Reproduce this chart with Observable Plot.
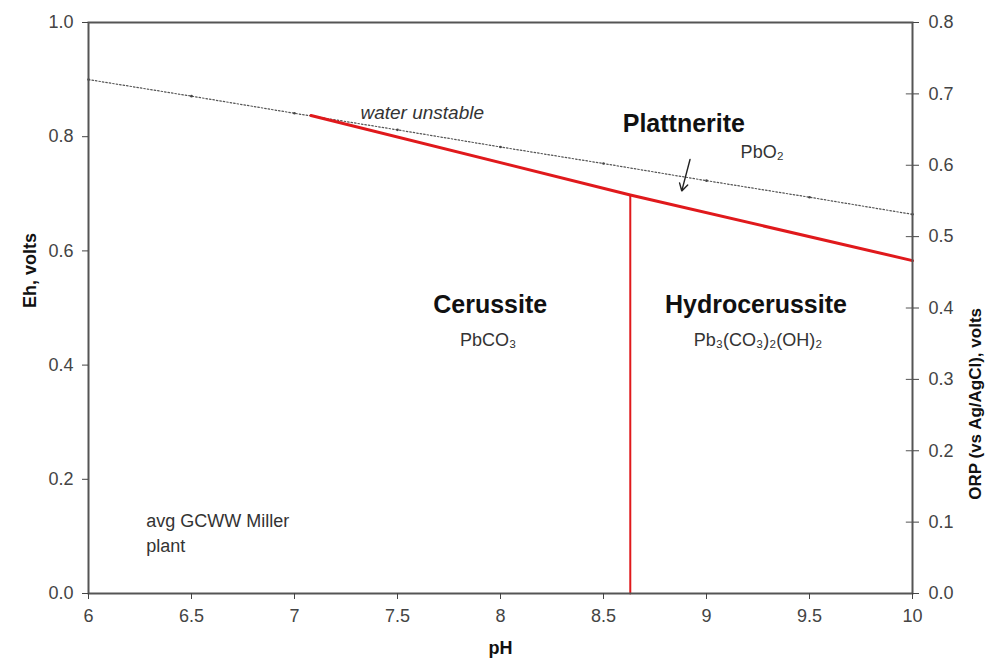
<!DOCTYPE html>
<html><head><meta charset="utf-8">
<script src="https://cdn.jsdelivr.net/npm/d3@7"></script>
<script src="https://cdn.jsdelivr.net/npm/@observablehq/plot@0.6"></script>
<style>body{margin:0;background:#fff;font-family:"Liberation Sans",Arial,sans-serif}</style>
</head><body><div id="chart"></div>
<script>
const phTicks = [6, 6.5, 7, 7.5, 8, 8.5, 9, 9.5, 10];
const ehTicks = [0, 0.2, 0.4, 0.6, 0.8, 1.0];
const orpTicks = [0, 0.1, 0.2, 0.3, 0.4, 0.5, 0.6, 0.7, 0.8];
const waterPH = [6, 6.5, 7, 7.5, 8, 8.5, 9, 9.5, 10];
const waterEh = [0.900, 0.871, 0.841, 0.812, 0.782, 0.753, 0.723, 0.694, 0.664];
const boundaryPH = [7.08, 8.63, 10];
const boundaryEh = [0.837, 0.698, 0.583];
const verticalPH = [8.63, 8.63];
const verticalEh = [0, 0.698];
const labels = [
  {x: 7.62, y: 0.842, t: "water unstable", w: "normal", s: "italic", size: 19, a: "middle"},
  {x: 8.89, y: 0.822, t: "Plattnerite", w: "bold", s: "normal", size: 25, a: "middle"},
  {x: 9.27, y: 0.772, t: "PbO₂", w: "normal", s: "normal", size: 18, a: "middle"},
  {x: 7.95, y: 0.506, t: "Cerussite", w: "bold", s: "normal", size: 25, a: "middle"},
  {x: 7.94, y: 0.443, t: "PbCO₃", w: "normal", s: "normal", size: 18, a: "middle"},
  {x: 9.24, y: 0.506, t: "Hydrocerussite", w: "bold", s: "normal", size: 25, a: "middle"},
  {x: 9.25, y: 0.443, t: "Pb₃(CO₃)₂(OH)₂", w: "normal", s: "normal", size: 18, a: "middle"},
  {x: 6.28, y: 0.126, t: "avg GCWW Miller", w: "normal", s: "normal", size: 18, a: "start"},
  {x: 6.28, y: 0.083, t: "plant", w: "normal", s: "normal", size: 18, a: "start"}
];
const water = waterPH.map((x, i) => ({x, y: waterEh[i]}));
const boundary = boundaryPH.map((x, i) => ({x, y: boundaryEh[i]}));
const vertical = verticalPH.map((x, i) => ({x, y: verticalEh[i]}));
const arrow = [{x1: 8.92, y1: 0.760, x2: 8.88, y2: 0.705}];

const chart = Plot.plot({
  width: 987, height: 660,
  marginLeft: 88, marginRight: 75, marginTop: 22, marginBottom: 67,
  style: {fontFamily: "Liberation Sans, Arial, sans-serif", background: "#fff"},
  x: {domain: [6, 10]},
  y: {domain: [0, 1]},
  marks: [
    Plot.line(water, {x: "x", y: "y", stroke: "#555", strokeWidth: 1.2, strokeDasharray: "1.5,2"}),
    Plot.dot(water, {x: "x", y: "y", r: 1.3, fill: "#444"}),
    Plot.line(boundary, {x: "x", y: "y", stroke: "#e0191c", strokeWidth: 3}),
    Plot.line(vertical, {x: "x", y: "y", stroke: "#e0191c", strokeWidth: 2}),
    Plot.arrow(arrow, {x1: "x1", y1: "y1", x2: "x2", y2: "y2", stroke: "#222", strokeWidth: 1.4, headLength: 9}),
    ...labels.map(d => Plot.text([d], {x: "x", y: "y", text: "t", fontWeight: d.w, fontStyle: d.s, fontSize: d.size, textAnchor: d.a, fill: d.w === "bold" ? "#111" : "#333"})),
    Plot.frame({stroke: "#555", strokeWidth: 2}),
    Plot.axisX({ticks: phTicks, tickSize: 6, tickPadding: 10, fontSize: 18, color: "#444", label: null, tickFormat: d => String(d)}),
    Plot.axisY({ticks: ehTicks, tickSize: 6, tickPadding: 9, fontSize: 18, color: "#444", label: null, tickFormat: d => d.toFixed(1)}),
    Plot.axisY({ticks: orpTicks.map(v => v / 0.8), anchor: "right", tickSize: 6, tickPadding: 10, fontSize: 18, color: "#444", label: null, tickFormat: d => (d * 0.8).toFixed(1)}),
    Plot.ruleY(orpTicks.map(v => v / 0.8), {x1: 9.97, x2: 10, stroke: "#555", strokeWidth: 1}),
    Plot.text(["pH"], {frameAnchor: "bottom", dy: 60, fontWeight: "bold", fontSize: 18, fill: "#111"}),
    Plot.text(["Eh, volts"], {frameAnchor: "left", dx: -58, rotate: -90, fontWeight: "bold", fontSize: 18, fill: "#111"}),
    Plot.text(["ORP (vs Ag/AgCl), volts"], {frameAnchor: "right", dx: 63, rotate: -90, fontWeight: "bold", fontSize: 17, fill: "#111"})
  ]
});
document.getElementById("chart").append(chart);
</script></body></html>
